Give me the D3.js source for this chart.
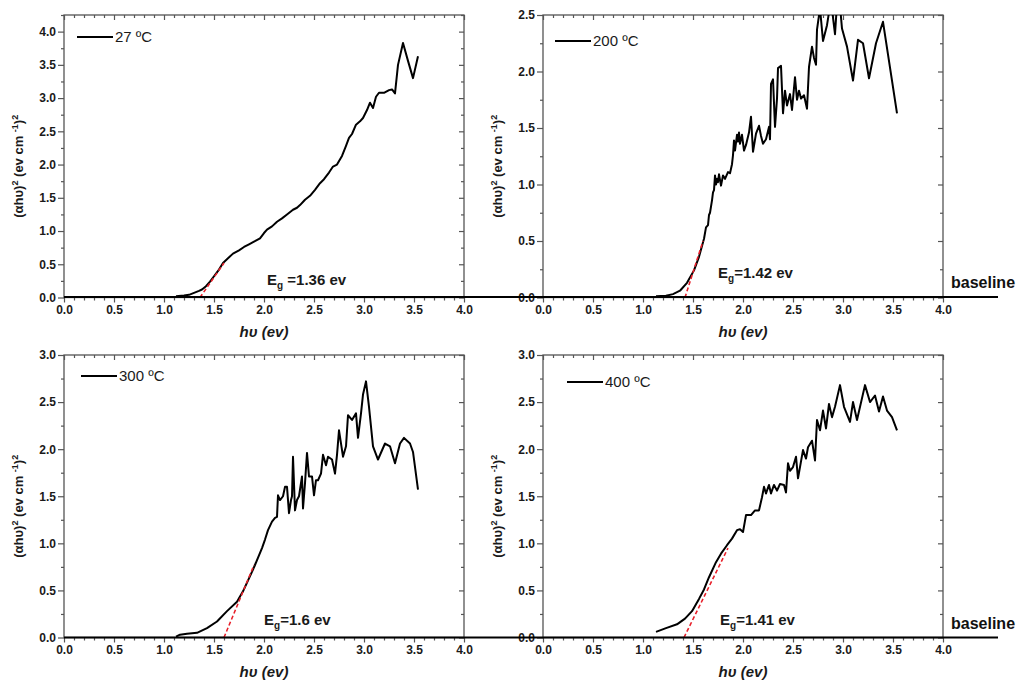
<!DOCTYPE html>
<html lang="en">
<head>
<meta charset="UTF-8">
<title>Eg plots</title>
<script src="https://cdn.jsdelivr.net/npm/d3@7"></script>
<style>
  body { margin: 0; background: #fff; }
  text { font-family: Arial, "Liberation Sans", sans-serif; }
</style>
</head>
<body>
<script>
// ---- data: [hv (eV), (alpha h v)^2] ----
var t27 = [[1.12,0.02],[1.2,0.03],[1.25,0.04],[1.3,0.07],[1.35,0.1],[1.38,0.12],[1.42,0.17],[1.46,0.24],[1.5,0.32],[1.55,0.42],[1.59,0.52],[1.64,0.59],[1.69,0.66],[1.75,0.71],[1.8,0.76],[1.85,0.8],[1.9,0.84],[1.96,0.89],[2.0,0.97],[2.03,1.02],[2.08,1.07],[2.13,1.14],[2.18,1.19],[2.23,1.25],[2.29,1.32],[2.33,1.35],[2.36,1.39],[2.41,1.47],[2.46,1.53],[2.51,1.62],[2.56,1.72],[2.6,1.78],[2.65,1.88],[2.69,1.97],[2.73,2.0],[2.78,2.13],[2.82,2.28],[2.85,2.4],[2.88,2.46],[2.92,2.6],[2.96,2.65],[2.99,2.7],[3.03,2.82],[3.06,2.93],[3.09,2.85],[3.12,3.02],[3.15,3.08],[3.2,3.08],[3.25,3.12],[3.28,3.13],[3.31,3.07],[3.34,3.5],[3.39,3.83],[3.44,3.56],[3.49,3.3],[3.54,3.63]];

var t200 = [[1.13,0.01],[1.23,0.015],[1.3,0.03],[1.37,0.06],[1.44,0.13],[1.51,0.24],[1.56,0.36],[1.61,0.52],[1.63,0.62],[1.65,0.64],[1.66,0.73],[1.67,0.75],[1.69,0.86],[1.7,0.93],[1.71,0.95],[1.72,1.08],[1.73,1.0],[1.74,1.05],[1.75,1.02],[1.76,1.09],[1.78,0.99],[1.8,1.08],[1.82,1.05],[1.85,1.11],[1.87,1.1],[1.89,1.18],[1.9,1.26],[1.91,1.39],[1.92,1.3],[1.94,1.44],[1.95,1.38],[1.96,1.46],[1.97,1.36],[1.99,1.44],[2.01,1.3],[2.03,1.35],[2.06,1.46],[2.08,1.6],[2.1,1.29],[2.13,1.45],[2.16,1.52],[2.18,1.43],[2.2,1.36],[2.23,1.4],[2.26,1.51],[2.27,1.4],[2.28,1.89],[2.3,1.93],[2.32,1.51],[2.34,1.76],[2.35,2.03],[2.38,2.05],[2.4,1.63],[2.42,1.83],[2.44,1.7],[2.47,1.8],[2.49,1.66],[2.52,1.95],[2.54,1.75],[2.56,1.83],[2.58,1.76],[2.61,1.79],[2.64,1.67],[2.66,2.04],[2.69,2.22],[2.71,2.12],[2.73,2.06],[2.74,2.37],[2.77,2.56],[2.8,2.27],[2.84,2.41],[2.87,2.58],[2.89,2.55],[2.92,2.33],[2.94,2.6],[2.97,2.58],[2.99,2.38],[3.04,2.22],[3.1,1.92],[3.15,2.28],[3.2,2.25],[3.26,1.94],[3.33,2.25],[3.4,2.44],[3.49,1.92],[3.54,1.63]];

var t300 = [[1.12,0.01],[1.16,0.03],[1.23,0.04],[1.33,0.05],[1.43,0.1],[1.53,0.17],[1.63,0.28],[1.73,0.38],[1.79,0.49],[1.89,0.72],[1.98,0.95],[2.01,1.04],[2.04,1.14],[2.08,1.23],[2.11,1.27],[2.13,1.28],[2.14,1.51],[2.16,1.46],[2.19,1.5],[2.21,1.6],[2.23,1.6],[2.25,1.32],[2.27,1.46],[2.28,1.5],[2.29,1.92],[2.31,1.35],[2.33,1.46],[2.35,1.5],[2.38,1.71],[2.39,1.37],[2.41,1.64],[2.43,1.96],[2.45,1.71],[2.48,1.71],[2.5,1.51],[2.52,1.67],[2.54,1.67],[2.57,1.74],[2.59,1.94],[2.62,1.83],[2.64,1.92],[2.68,1.89],[2.71,1.74],[2.73,1.94],[2.75,2.2],[2.79,1.92],[2.82,2.03],[2.84,2.36],[2.88,2.31],[2.92,2.38],[2.94,2.12],[2.97,2.38],[2.99,2.58],[3.02,2.72],[3.05,2.45],[3.09,2.03],[3.14,1.89],[3.21,2.06],[3.26,2.03],[3.31,1.85],[3.36,2.06],[3.4,2.12],[3.46,2.06],[3.49,1.97],[3.54,1.57]];

var t400 = [[1.13,0.06],[1.23,0.1],[1.34,0.14],[1.42,0.2],[1.49,0.28],[1.56,0.41],[1.61,0.51],[1.66,0.64],[1.73,0.8],[1.78,0.89],[1.84,0.98],[1.89,1.05],[1.94,1.14],[1.97,1.15],[2.0,1.12],[2.03,1.3],[2.08,1.3],[2.12,1.35],[2.16,1.35],[2.19,1.49],[2.21,1.6],[2.23,1.53],[2.26,1.62],[2.28,1.53],[2.31,1.62],[2.34,1.56],[2.37,1.63],[2.41,1.62],[2.43,1.54],[2.45,1.85],[2.47,1.77],[2.5,1.81],[2.53,1.92],[2.55,1.69],[2.6,1.99],[2.63,1.9],[2.65,2.02],[2.69,2.09],[2.72,1.88],[2.74,2.31],[2.77,2.2],[2.8,2.41],[2.83,2.22],[2.86,2.48],[2.89,2.34],[2.92,2.45],[2.97,2.68],[3.01,2.45],[3.07,2.29],[3.1,2.5],[3.14,2.31],[3.22,2.68],[3.27,2.5],[3.32,2.57],[3.36,2.4],[3.4,2.56],[3.44,2.41],[3.49,2.34],[3.54,2.2]];

// tangent (extrapolation) lines, red dashed
var fit27  = [[1.36,0],[1.6,0.52]];
var fit200 = [[1.42,0],[1.6,0.5]];
var fit300 = [[1.6,0],[1.9,0.77]];
var fit400 = [[1.41,0],[1.85,0.95]];

var legendNames = ["27 ºC", "200 ºC", "300 ºC", "400 ºC"];
var gapValues = ["=1.36 ev", "=1.42 ev", "=1.6 ev", "=1.41 ev"];
var yMaxes = [4.25, 2.5, 3, 3];
var xMajor = [0, 0.5, 1, 1.5, 2, 2.5, 3, 3.5, 4];

var width = 1023, height = 686;
var svg = d3.select("body").append("svg").attr("width", width).attr("height", height);

// panel layout
var panels = [
  {data: t27,  fit: fit27,  x0: 64,  y0: 15,  leg: [13, 22], eg: [203, 270]},
  {data: t200, fit: fit200, x0: 543, y0: 15,  leg: [12, 26], eg: [175, 263]},
  {data: t300, fit: fit300, x0: 64,  y0: 355, leg: [17, 21], eg: [200, 270]},
  {data: t400, fit: fit400, x0: 543, y0: 355, leg: [24, 27], eg: [177, 270]}
];
var pw = 400, ph = 282.5;

function drawPanel(p, i) {
  var g = svg.append("g").attr("transform", "translate(" + p.x0 + "," + p.y0 + ")");
  var x = d3.scaleLinear().domain([0, 4]).range([0, pw]);
  var y = d3.scaleLinear().domain([0, yMaxes[i]]).range([ph, 0]);

  var yMajor = d3.range(0, yMaxes[i] + 0.001, 0.5);
  var yMinor = d3.range(0.25, yMaxes[i] + 0.001, 0.5);
  var xMinor = d3.range(0, 40.5, 1).map(function (d) { return d / 10; }).filter(function (d) { return Math.round(d * 10) % 5 != 0; });

  // frame
  g.append("rect").attr("width", pw).attr("height", ph)
    .attr("fill", "none").attr("stroke", "#555").attr("stroke-width", 1.3);

  function style(a) {
    a.select(".domain").remove();
    a.selectAll("line").attr("stroke", "#555").attr("stroke-width", 1.2);
    a.selectAll("text").attr("fill", "#1a1a1a").style("font-size", "12px").style("font-weight", "bold");
  }

  // bottom / left with labels (outward ticks)
  g.append("g").attr("transform", "translate(0," + ph + ")")
    .call(d3.axisBottom(x).tickValues(xMajor).tickSize(5).tickPadding(3).tickFormat(d3.format(".1f"))).call(style);
  g.append("g").attr("transform", "translate(0," + ph + ")")
    .call(d3.axisBottom(x).tickValues(xMinor).tickSize(3).tickFormat("")).call(style);
  g.append("g")
    .call(d3.axisLeft(y).tickValues(yMajor).tickSize(6).tickPadding(2).tickFormat(d3.format(".1f"))).call(style);
  g.append("g")
    .call(d3.axisLeft(y).tickValues(yMinor).tickSize(3).tickFormat("")).call(style);

  // top / right mirrored, inward ticks
  g.append("g").call(d3.axisTop(x).tickValues(xMajor).tickSize(-5).tickFormat("")).call(style);
  g.append("g").call(d3.axisTop(x).tickValues(xMinor).tickSize(-3).tickFormat("")).call(style);
  g.append("g").attr("transform", "translate(" + pw + ",0)")
    .call(d3.axisRight(y).tickValues(yMajor).tickSize(-5).tickFormat("")).call(style);
  g.append("g").attr("transform", "translate(" + pw + ",0)")
    .call(d3.axisRight(y).tickValues(yMinor).tickSize(-3).tickFormat("")).call(style);

  // clip
  svg.append("clipPath").attr("id", "clip" + i)
    .append("rect").attr("width", pw).attr("height", ph);
  var plot = g.append("g").attr("clip-path", "url(#clip" + i + ")");

  var line = d3.line().x(function (d) { return x(d[0]); }).y(function (d) { return y(d[1]); });

  plot.append("path").datum(p.data).attr("d", line)
    .attr("fill", "none").attr("stroke", "#000").attr("stroke-width", 2).attr("stroke-linejoin", "round");
  plot.append("path").datum(p.fit).attr("d", line)
    .attr("fill", "none").attr("stroke", "#e8202a").attr("stroke-width", 1.6).attr("stroke-dasharray", "4,2.5");

  // legend
  g.append("line").attr("x1", p.leg[0]).attr("x2", p.leg[0] + 36)
    .attr("y1", p.leg[1]).attr("y2", p.leg[1]).attr("stroke", "#000").attr("stroke-width", 2);
  g.append("text").attr("x", p.leg[0] + 38).attr("y", p.leg[1] + 5)
    .attr("fill", "#1a1a1a").style("font-size", "15px").text(legendNames[i]);

  // Eg annotation
  var eg = g.append("text").attr("x", p.eg[0]).attr("y", p.eg[1])
    .attr("fill", "#1a1a1a").style("font-size", "15px").style("font-weight", "bold");
  eg.append("tspan").text("E");
  eg.append("tspan").attr("dy", 4).style("font-size", "10px").text("g");
  eg.append("tspan").attr("dy", -4).text((i == 0 ? " " : "") + gapValues[i]);

  // axis titles
  var yt = g.append("text").attr("transform", "translate(-41," + (ph / 2 + 10) + ") rotate(-90)")
    .attr("text-anchor", "middle").attr("fill", "#1a1a1a")
    .style("font-size", "13px").style("font-weight", "bold");
  yt.append("tspan").text("(αhυ)");
  yt.append("tspan").attr("dy", -5).style("font-size", "9px").text("2");
  yt.append("tspan").attr("dy", 5).text(" (ev cm ");
  yt.append("tspan").attr("dy", -5).style("font-size", "9px").text("-1");
  yt.append("tspan").attr("dy", 5).text(")");
  yt.append("tspan").attr("dy", -5).style("font-size", "9px").text("2");

  g.append("text").attr("x", pw / 2).attr("y", ph + 39)
    .attr("text-anchor", "middle").attr("fill", "#1a1a1a")
    .style("font-size", "15px").style("font-weight", "bold").style("font-style", "italic")
    .text("hυ (ev)");
}

panels.forEach(function (p, i) { drawPanel(p, i); });

// baselines across each row
[297, 637.5].forEach(function (yy) {
  svg.append("line").attr("x1", 64).attr("x2", 998).attr("y1", yy).attr("y2", yy)
    .attr("stroke", "#000").attr("stroke-width", 2.2);
  svg.append("text").attr("x", 951).attr("y", yy - 9)
    .attr("fill", "#111").style("font-size", "16px").style("font-weight", "bold").text("baseline");
});
</script>
</body>
</html>
